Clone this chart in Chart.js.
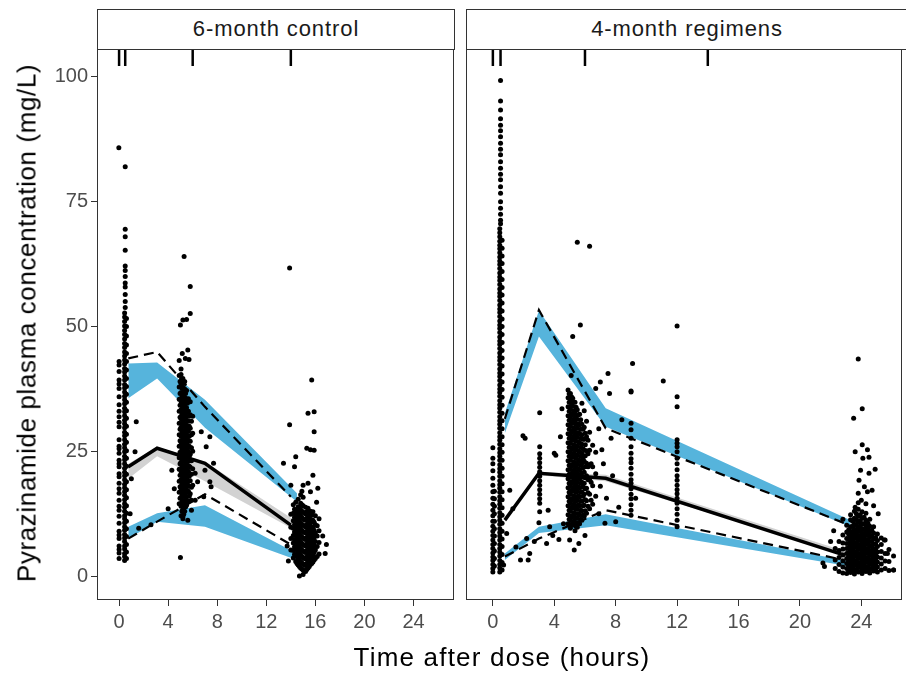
<!DOCTYPE html>
<html lang="en">
<head>
<meta charset="UTF-8">
<title>Pyrazinamide VPC</title>
<style>
  body { margin: 0; width: 906px; height: 673px; position: relative; overflow: hidden; background: #fff;
         font-family: "Liberation Sans", Arial, sans-serif; }
  .wrap { position: absolute; top: 0; height: 673px; }
  .strip { position: absolute; top: 9px; height: 41px; box-sizing: border-box; border: 1px solid #333;
           background: #fff; text-align: center; line-height: 38px; font-size: 22px; letter-spacing: 0.9px; color: #1a1a1a; }
  .title { position: absolute; white-space: nowrap; font-size: 26px; color: #000; letter-spacing: 1.2px; }
</style>
</head>
<body>

<div class="wrap" style="left:0;width:460px"><canvas id="ctrl" width="460" height="673"></canvas></div>
<div class="wrap" style="left:460px;width:446px"><canvas id="reg" width="446" height="673"></canvas></div>
<div class="strip" style="left:97px;width:358px">6-month control</div>
<div class="strip" style="left:466px;width:442px">4-month regimens</div>
<div class="title" style="left:27px;top:323px;transform:translate(-50%,-50%) rotate(-90deg);letter-spacing:0.6px">Pyrazinamide plasma concentration (mg/L)</div>
<div class="title" style="left:502px;top:657px;transform:translate(-50%,-50%)">Time after dose (hours)</div>

<script src="https://cdn.jsdelivr.net/npm/chart.js"></script>
<script>
  const xTicks = [0, 4, 8, 12, 16, 20, 24];
  const yTicks = [0, 25, 50, 75, 100];
  const binEdges = [0, 0.5, 6, 14];

  // 6-month control: simulated CI bands and observed percentiles
  const ctrlSimT = [0.75, 3.1, 7.0, 14.5];
  const ctrlHiLo = [35.6, 39.6, 29.7, 14.9];
  const ctrlHiHi = [42.6, 42.8, 35.3, 16.6];
  const ctrlMedLo = [19.5, 24.0, 19.0, 9.0];
  const ctrlMedHi = [22.5, 25.9, 22.9, 10.9];
  const ctrlLoLo = [7.5, 10.9, 9.9, 3.2];
  const ctrlLoHi = [9.9, 12.6, 14.2, 4.5];
  const ctrlObsT = [0.75, 3.1, 7.0, 14.0];
  const ctrlObsMed = [21.9, 25.6, 22.6, 10.2];
  const ctrlObsP95 = [43.6, 44.9, 33.9, 15.9];
  const ctrlObsP05 = [7.5, 10.9, 16.4, 6.3];

  // 4-month regimens
  const regSimT = [0.78, 3.0, 7.35, 23.3];
  const regHiLo = [28.6, 48.0, 29.9, 9.9];
  const regHiHi = [32.6, 53.2, 33.6, 11.2];
  const regMedLo = [10.8, 20.2, 19.0, 3.9];
  const regMedHi = [11.6, 20.9, 20.3, 4.6];
  const regLoLo = [3.2, 8.6, 10.2, 1.9];
  const regLoHi = [4.5, 9.9, 12.4, 2.9];
  const regObsT = [0.78, 3.0, 7.35, 22.9];
  const regObsMed = [11.2, 20.6, 19.6, 4.2];
  const regObsP95 = [31.5, 53.3, 29.6, 10.6];
  const regObsP05 = [3.9, 7.5, 13.2, 3.2];

  // observations, grouped by sampling time: [time, [concentrations]]
  const ctrlColumns = [
    [0.0, [3.5, 4.6, 5.3, 6.0, 7.5, 8.2, 9.0, 10.6, 12.0, 13.2, 14.0, 15.2, 16.6, 17.5, 18.6, 19.9, 20.5, 21.9, 22.5, 23.2, 24.6, 25.5, 26.0, 27.3, 29.9, 30.8, 31.9, 33.0, 34.3, 35.9, 37.6, 38.5, 39.3, 41.0, 42.3, 43.0]],
    [0.45, [3.1, 3.9, 4.5, 5.4, 6.0, 6.9, 7.6, 8.3, 9.2, 9.9, 10.7, 11.5, 12.1, 13.0, 13.8, 14.5, 15.3, 16.2, 16.9, 17.7, 18.4, 19.3, 20.1, 20.8, 21.6, 22.5, 23.3, 24.0, 24.9, 25.7, 26.4, 27.3, 28.1, 28.8, 29.7, 30.5, 31.2, 32.1, 32.9, 33.6, 34.5, 35.3, 36.0, 36.9, 37.7, 38.4, 39.3, 40.1, 40.9, 41.6, 42.5, 43.3, 44.1, 44.9, 45.8, 46.6, 47.5, 48.4, 49.2, 50.1, 51.0, 51.9, 52.7]],
    [0.6, [3.5, 4.8, 6.3, 7.9, 9.5, 11.0, 12.6, 14.1, 15.7, 17.3, 18.9, 20.4, 22.0, 23.6, 25.1, 26.8, 28.4, 30.0, 31.6, 33.1, 34.8, 36.4, 38.0, 39.6, 41.3, 43.0, 44.6, 46.3, 48.1, 50.0, 51.6]],
    [0.5, [53.8, 55.0, 56.4, 57.9, 58.7, 60.0, 61.2, 62.1, 65.3, 68.0, 69.5, 82.0]],
    [4.9, [14.5, 16.8, 19.0, 21.4, 23.7, 26.0, 28.3, 30.6, 33.0, 35.4, 37.9, 40.2]],
    [4.97, [15.6, 17.9, 20.2, 22.5, 24.8, 27.1, 29.4, 31.8, 34.2, 36.6, 39.0]],
    [5.05, [12.1, 14.0, 15.8, 17.5, 19.3, 21.0, 22.8, 24.5, 26.3, 28.0, 29.8, 31.5, 33.3, 35.0, 36.8, 38.6, 40.4, 41.5]],
    [5.12, [13.0, 14.9, 16.6, 18.4, 20.1, 21.9, 23.6, 25.4, 27.1, 28.9, 30.6, 32.4, 34.1, 35.9, 37.7, 39.5]],
    [5.2, [11.5, 13.4, 15.1, 16.9, 18.6, 20.4, 22.1, 23.9, 25.6, 27.4, 29.1, 30.9, 32.6, 34.4, 36.1, 37.9, 39.6]],
    [5.27, [12.4, 14.2, 16.0, 17.7, 19.5, 21.2, 23.0, 24.7, 26.5, 28.2, 30.0, 31.7, 33.5, 35.2, 37.0, 38.7]],
    [5.35, [13.0, 14.8, 16.5, 18.3, 20.0, 21.8, 23.5, 25.3, 27.0, 28.8, 30.5, 32.3, 34.0, 35.8, 37.5, 39.0]],
    [5.42, [13.9, 15.6, 17.4, 19.1, 20.9, 22.6, 24.4, 26.1, 27.9, 29.6, 31.4, 33.1, 34.9, 36.6]],
    [5.5, [14.2, 16.0, 17.8, 19.6, 21.3, 23.1, 24.9, 26.6, 28.4, 30.2, 32.0, 33.7, 35.5, 37.2]],
    [5.57, [15.1, 16.9, 18.7, 20.4, 22.2, 24.0, 25.7, 27.5, 29.3, 31.1, 32.8, 34.6]],
    [5.65, [15.0, 17.0, 19.0, 21.0, 23.0, 25.0, 27.0, 29.0, 31.0, 33.0, 35.5]],
    [5.72, [16.0, 18.0, 20.0, 22.0, 24.0, 26.0, 28.0, 30.0, 32.0]],
    [5.8, [16.5, 19.1, 21.8, 24.4, 27.0, 29.6, 32.3, 34.9]],
    [5.9, [17.8, 20.4, 23.1, 25.7, 28.3, 31.0]],
    [6.0, [18.2, 21.5, 25.0, 28.6, 32.0]],
    [14.0, [5.2, 7.5, 9.8, 12.4]],
    [14.2, [3.6, 5.1, 6.6, 8.1, 9.6, 11.1, 12.6, 14.3]],
    [14.3, [4.3, 5.8, 7.3, 8.8, 10.3, 11.8, 13.4]],
    [14.4, [2.9, 4.3, 5.7, 7.1, 8.5, 9.9, 11.3, 12.7, 14.8]],
    [14.5, [2.5, 3.9, 5.2, 6.6, 8.0, 9.3, 10.6, 12.0, 13.3]],
    [14.6, [2.2, 3.5, 4.8, 6.1, 7.4, 8.7, 10.0, 11.3, 12.6, 13.9, 15.4]],
    [14.7, [1.9, 3.2, 4.5, 5.8, 7.1, 8.4, 9.7, 11.0, 12.3, 13.6]],
    [14.8, [1.6, 2.9, 4.2, 5.5, 6.8, 8.1, 9.4, 10.7, 12.0, 13.3, 14.6, 16.3]],
    [14.9, [1.4, 2.6, 3.9, 5.2, 6.5, 7.8, 9.1, 10.4, 11.7, 13.0, 14.3]],
    [15.0, [1.2, 2.4, 3.7, 5.0, 6.3, 7.6, 8.9, 10.2, 11.5, 12.8, 14.1, 15.8]],
    [15.1, [1.0, 2.2, 3.5, 4.8, 6.1, 7.4, 8.7, 10.0, 11.3, 12.6]],
    [15.2, [0.9, 2.1, 3.4, 4.7, 6.0, 7.3, 8.6, 9.9, 11.2, 12.5, 13.8]],
    [15.3, [1.3, 2.5, 3.8, 5.1, 6.4, 7.7, 9.0, 10.3, 11.6, 12.9]],
    [15.4, [1.6, 2.9, 4.2, 5.5, 6.8, 8.1, 9.4, 10.7, 12.0, 13.6]],
    [15.5, [1.9, 3.2, 4.5, 5.8, 7.1, 8.4, 9.7, 11.0, 12.4]],
    [15.6, [2.3, 3.6, 4.9, 6.2, 7.5, 8.8, 10.1, 11.4, 13.0]],
    [15.7, [2.5, 3.9, 5.3, 6.7, 8.1, 9.5, 10.9, 12.2]],
    [15.8, [2.8, 4.2, 5.6, 7.0, 8.4, 9.8, 11.2, 12.9]],
    [15.9, [3.2, 4.7, 6.2, 7.7, 9.2, 10.8]],
    [16.0, [3.5, 5.2, 6.9, 8.6, 10.3, 12.1]],
    [16.15, [3.9, 5.9, 8.0, 10.1]],
    [16.3, [4.4, 6.7, 9.1, 11.5]]
  ];
  const ctrlPoints = [
    [-0.02, 85.8], [1.4, 30.9], [1.3, 24.9], [1.6, 9.6], [4.3, 21.2], [5.0, 3.7], [1.0, 19.5], [0.9, 12.5],
    [2.6, 10.3], [4.0, 13.5], [4.5, 17.5], [5.3, 64.0], [5.8, 58.0], [5.8, 52.6], [5.5, 51.4], [5.2, 51.3],
    [5.0, 50.3], [5.6, 45.3], [5.15, 44.6], [5.4, 43.6], [5.7, 43.4], [4.9, 43.2], [6.7, 28.9], [7.4, 27.9],
    [7.1, 25.9], [7.7, 22.6], [7.0, 21.2], [6.2, 20.6], [6.4, 18.9], [7.4, 18.9], [7.5, 17.9], [5.9, 15.2],
    [5.4, 13.9], [5.2, 11.9], [5.6, 11.2], [6.2, 15.2], [6.9, 15.9], [5.9, 13.2], [15.7, 39.3], [15.9, 32.9],
    [15.4, 32.6], [15.9, 28.9], [13.9, 30.3], [15.3, 25.6], [15.6, 25.3], [14.4, 23.9], [15.9, 25.2],
    [13.4, 22.6], [14.3, 21.9], [15.8, 20.2], [15.4, 18.6], [15.0, 18.2], [16.2, 17.6], [14.0, 18.2],
    [13.9, 61.7], [15.6, 16.9], [14.9, 17.0], [16.1, 14.8], [15.0, 0.3], [14.7, 0.0], [16.6, 8.0],
    [16.8, 4.5], [16.9, 6.3], [13.7, 6.0], [13.8, 3.0]
  ];

  const regColumns = [
    [0.0, [0.8, 1.5, 2.3, 3.1, 3.8, 4.6, 5.5, 6.3, 7.2, 8.1, 9.0, 10.0, 11.0, 12.1, 13.2, 14.4, 15.6, 16.9, 18.2, 19.6, 21.1, 22.5, 23.6, 25.7]],
    [0.1, [2.0, 3.5, 5.0, 6.5, 8.0, 9.5, 11.0, 12.5, 14.0, 15.5, 17.0]],
    [0.45, [0.8, 1.6, 2.3, 3.1, 4.0, 4.8, 5.5, 6.3, 7.2, 8.0, 8.7, 9.5, 10.4, 11.2, 11.9, 12.7, 13.6, 14.4, 15.1, 15.9, 16.8, 17.6, 18.3, 19.1, 20.0, 20.8, 21.5, 22.3, 23.2, 24.0, 24.7, 25.5, 26.4, 27.2, 27.9, 28.7, 29.6, 30.4, 31.1, 31.9, 32.8, 33.6, 34.3, 35.1, 36.0, 36.8, 37.5, 38.3, 39.2, 40.0, 40.7, 41.5, 42.4, 43.2, 43.9, 44.7, 45.6, 46.4, 47.1, 47.9, 48.8, 49.6, 50.3, 51.1, 52.0, 52.8, 53.5, 54.3, 55.2, 56.0, 56.7, 57.5, 58.4, 59.2, 59.9, 60.7, 61.6, 62.4, 63.1, 63.9, 64.8, 65.6, 66.3, 67.1, 68.0, 68.8, 69.6]],
    [0.6, [1.2, 2.7, 4.3, 5.9, 7.4, 9.0, 10.6, 12.2, 13.7, 15.3, 16.9, 18.5, 20.0, 21.6, 23.2, 24.8, 26.3, 27.9, 29.5, 31.1, 32.6, 34.2, 35.8, 37.4, 38.9, 40.5, 42.1, 43.7, 45.2, 46.8, 48.4, 50.0, 51.5, 53.1, 54.7, 56.3, 57.8, 59.4, 61.0, 62.6, 64.1, 65.7, 67.3]],
    [0.5, [70.6, 71.3, 72.5, 73.7, 75.0, 76.7, 78.0, 79.4, 80.5, 81.7, 83.0, 84.4, 85.5, 86.7, 88.0, 89.2, 90.3, 91.6, 93.4, 95.2, 99.3]],
    [3.05, [12.9, 14.6, 15.5, 16.4, 17.3, 18.2, 19.1, 20.0, 20.9, 21.8, 22.7, 23.6, 24.5, 25.9, 32.7]],
    [4.9, [10.5, 12.3, 14.1, 15.9, 17.7, 19.5, 21.3, 23.1, 24.9, 26.7, 28.5, 30.3, 32.1, 33.9, 35.7, 37.3]],
    [4.97, [11.4, 13.2, 15.0, 16.8, 18.6, 20.4, 22.2, 24.0, 25.8, 27.6, 29.4, 31.2, 33.0, 34.8, 36.5]],
    [5.05, [9.6, 11.3, 13.0, 14.7, 16.4, 18.1, 19.8, 21.5, 23.2, 24.9, 26.6, 28.3, 30.0, 31.7, 33.4, 35.1, 36.6]],
    [5.12, [10.4, 12.1, 13.8, 15.5, 17.2, 18.9, 20.6, 22.3, 24.0, 25.7, 27.4, 29.1, 30.8, 32.5, 34.2, 35.9]],
    [5.2, [10.2, 11.9, 13.6, 15.3, 17.0, 18.7, 20.4, 22.1, 23.8, 25.5, 27.2, 28.9, 30.6, 32.3, 34.0, 35.6]],
    [5.27, [11.0, 12.7, 14.4, 16.1, 17.8, 19.5, 21.2, 22.9, 24.6, 26.3, 28.0, 29.7, 31.4, 33.1, 34.8]],
    [5.35, [9.1, 10.8, 12.5, 14.2, 15.9, 17.6, 19.3, 21.0, 22.7, 24.4, 26.1, 27.8, 29.5, 31.2, 32.9, 34.8]],
    [5.42, [10.0, 11.7, 13.4, 15.1, 16.8, 18.5, 20.2, 21.9, 23.6, 25.3, 27.0, 28.7, 30.4, 32.1, 33.8]],
    [5.5, [9.8, 11.6, 13.4, 15.2, 17.0, 18.8, 20.6, 22.4, 24.2, 26.0, 27.8, 29.6, 31.4, 33.3]],
    [5.57, [10.7, 12.5, 14.3, 16.1, 17.9, 19.7, 21.5, 23.3, 25.1, 26.9, 28.7, 30.5, 32.3]],
    [5.65, [10.5, 12.3, 14.1, 15.9, 17.7, 19.5, 21.3, 23.1, 24.9, 26.7, 28.5, 30.3, 32.4]],
    [5.72, [11.4, 13.2, 15.0, 16.8, 18.6, 20.4, 22.2, 24.0, 25.8, 27.6, 29.4, 31.3]],
    [5.8, [11.2, 13.1, 15.0, 16.9, 18.8, 20.7, 22.6, 24.5, 26.4, 28.3, 30.4, 34.6]],
    [5.87, [12.2, 14.1, 16.0, 17.9, 19.8, 21.7, 23.6, 25.5, 27.4, 29.4]],
    [5.95, [12.0, 14.2, 16.4, 18.6, 20.8, 23.0, 25.2, 27.4, 29.8, 33.1]],
    [6.02, [13.1, 15.3, 17.5, 19.7, 21.9, 24.1, 26.3, 28.6]],
    [6.1, [12.6, 15.1, 17.6, 20.1, 22.6, 25.1, 27.9, 31.0]],
    [6.2, [14.0, 16.7, 19.3, 21.9, 24.5, 27.2]],
    [6.3, [13.5, 16.4, 19.3, 22.2, 25.2, 28.8]],
    [6.4, [15.2, 18.8, 22.5]],
    [6.5, [14.4, 18.1, 21.9, 26.2]],
    [6.7, [16.0, 20.5, 24.8]],
    [9.0, [12.2, 13.2, 14.3, 15.5, 16.4, 17.5, 18.6, 19.3, 20.4, 21.6, 22.7, 23.5, 24.6, 25.9, 27.6, 29.3, 30.6, 36.9]],
    [12.0, [9.9, 11.2, 12.4, 13.5, 14.6, 15.6, 16.5, 17.3, 18.2, 19.2, 20.1, 21.3, 22.5, 23.6, 24.9, 25.9, 26.6, 27.3, 33.9, 35.9]],
    [22.3, [1.5, 3.2, 5.5]],
    [22.55, [0.9, 2.3, 3.7, 5.1, 6.9]],
    [22.8, [0.6, 1.8, 3.0, 4.2, 5.4, 6.6, 8.2]],
    [23.05, [0.5, 1.5, 2.5, 3.5, 4.5, 5.5, 6.5, 7.5, 8.8, 10.2]],
    [23.18, [1.1, 2.0, 2.9, 3.8, 4.7, 5.6, 6.5, 7.4, 8.3, 9.3]],
    [23.3, [0.7, 1.6, 2.5, 3.4, 4.3, 5.2, 6.1, 7.0, 7.9, 8.8, 9.9, 11.3]],
    [23.43, [0.9, 1.8, 2.7, 3.6, 4.5, 5.4, 6.3, 7.2, 8.1, 9.0, 10.0, 11.0]],
    [23.55, [0.4, 1.3, 2.2, 3.1, 4.0, 4.9, 5.8, 6.7, 7.6, 8.5, 9.4, 10.4, 11.6, 13.0]],
    [23.68, [1.2, 2.1, 3.0, 3.9, 4.8, 5.7, 6.6, 7.5, 8.4, 9.3, 10.3, 11.3, 12.5]],
    [23.8, [0.8, 1.7, 2.6, 3.5, 4.4, 5.3, 6.2, 7.1, 8.0, 8.9, 9.8, 10.8, 12.0, 13.4, 14.7]],
    [23.93, [0.9, 1.8, 2.7, 3.6, 4.5, 5.4, 6.3, 7.2, 8.1, 9.0, 10.0, 11.1, 12.3]],
    [24.05, [0.5, 1.4, 2.3, 3.2, 4.1, 5.0, 5.9, 6.8, 7.7, 8.6, 9.5, 10.5, 11.6, 12.9]],
    [24.18, [1.2, 2.1, 3.0, 3.9, 4.8, 5.7, 6.6, 7.5, 8.4, 9.4, 10.5, 11.8]],
    [24.3, [0.9, 1.8, 2.7, 3.6, 4.5, 5.4, 6.3, 7.2, 8.1, 9.0, 10.0, 11.2, 12.6]],
    [24.43, [1.0, 1.9, 2.8, 3.7, 4.6, 5.5, 6.4, 7.3, 8.3, 9.4, 10.6]],
    [24.55, [0.6, 1.5, 2.4, 3.3, 4.2, 5.1, 6.0, 6.9, 7.8, 8.8, 10.0, 11.4]],
    [24.68, [1.4, 2.3, 3.2, 4.1, 5.0, 5.9, 6.9, 8.0, 9.2]],
    [24.8, [1.0, 1.9, 2.8, 3.7, 4.6, 5.5, 6.4, 7.4, 8.6, 9.9]],
    [24.93, [1.3, 2.3, 3.3, 4.3, 5.3, 6.4, 7.7]],
    [25.05, [0.8, 1.8, 2.8, 3.8, 4.8, 5.9, 7.1, 8.4]],
    [25.3, [1.2, 2.4, 3.6, 4.9, 6.3, 7.6]],
    [25.55, [1.5, 3.0, 4.5, 7.2]],
    [25.8, [1.1, 2.9, 5.3]],
    [26.1, [1.2, 4.0]]
  ];
  const regPoints = [
    [1.96, 28.1], [2.1, 27.6], [2.3, 3.2], [2.2, 7.5], [2.4, 4.5], [3.7, 9.9], [3.5, 6.5], [4.1, 24.2],
    [3.6, 13.2], [1.1, 17.2], [4.0, 24.6], [4.4, 27.9], [1.3, 13.5], [0.9, 8.5], [1.5, 5.8], [2.7, 6.9],
    [3.9, 8.1], [4.6, 10.5], [4.3, 7.3], [1.8, 3.2], [3.0, 10.7], [5.2, 48.0], [5.7, 50.3], [5.5, 66.9],
    [6.3, 66.1], [5.1, 40.2], [4.5, 33.5], [6.7, 37.6], [7.5, 40.6], [7.6, 36.6], [7.0, 38.9], [9.1, 42.6],
    [9.0, 37.1], [7.7, 27.6], [8.4, 31.3], [11.1, 39.1], [12.0, 50.1], [7.2, 22.5], [7.0, 18.0], [7.4, 15.6],
    [6.9, 12.5], [7.3, 10.6], [8.0, 10.9], [9.3, 15.6], [6.9, 29.5], [7.1, 25.3], [7.8, 20.1], [8.2, 13.8],
    [5.0, 7.2], [5.6, 6.5], [6.0, 8.1], [5.3, 5.2], [0.7, 2.2], [23.8, 43.5], [24.06, 33.5], [23.5, 31.6],
    [24.06, 26.3], [24.4, 25.3], [23.6, 24.9], [24.1, 23.6], [24.5, 23.8], [23.95, 21.2], [24.9, 21.4],
    [24.5, 20.6], [23.85, 19.2], [24.2, 17.9], [23.8, 16.6], [24.4, 16.9], [24.7, 17.2], [24.0, 15.2],
    [24.3, 14.5], [23.6, 13.8], [24.8, 14.1], [25.1, 12.5], [23.3, 12.3], [22.8, 11.4], [21.6, 1.9],
    [21.5, 2.6], [22.0, 6.9], [22.2, 9.1], [26.1, 1.2], [25.7, 4.5], [25.5, 7.2]
  ];

  const BLUE = '#56B4DC';
  const GREY = '#D2D2D2';

  function xy(ts, vs) {
    return ts.map((t, i) => ({ x: t, y: vs[i] }));
  }
  function obsData(columns, points) {
    const out = [];
    columns.forEach(([t, cs]) => cs.forEach(c => out.push({ x: t, y: c })));
    points.forEach(([t, c]) => out.push({ x: t, y: c }));
    return out;
  }
  function band(ts, lo, hi, color) {
    return [
      { data: xy(ts, lo), borderWidth: 0, pointRadius: 0, fill: false },
      { data: xy(ts, hi), borderWidth: 0, pointRadius: 0, fill: '-1', backgroundColor: color }
    ];
  }

  // the first dataset is drawn on top, so lines come first and bands last
  function datasets(p) {
    return [
      { data: xy(p.obsT, p.med), borderColor: '#000', borderWidth: 3.5, pointRadius: 0 },
      { data: xy(p.obsT, p.p95), borderColor: '#000', borderWidth: 2.2, borderDash: [10, 6], pointRadius: 0 },
      { data: xy(p.obsT, p.p05), borderColor: '#000', borderWidth: 2.2, borderDash: [10, 6], pointRadius: 0 },
      { data: p.obs, showLine: false, pointRadius: 2.5, pointBackgroundColor: '#000', pointBorderWidth: 0 },
      ...band(p.simT, p.medLo, p.medHi, GREY),
      ...band(p.simT, p.hiLo, p.hiHi, BLUE),
      ...band(p.simT, p.loLo, p.loHi, BLUE)
    ];
  }

  const framePlugin = {
    id: 'frame',
    afterDraw(chart) {
      const { ctx, chartArea: a, scales } = chart;
      ctx.save();
      ctx.strokeStyle = '#000';
      ctx.lineWidth = 2.5;
      binEdges.forEach(v => {
        const px = scales.x.getPixelForValue(v);
        ctx.beginPath();
        ctx.moveTo(px, a.top);
        ctx.lineTo(px, a.top + 17);
        ctx.stroke();
      });
      ctx.strokeStyle = '#333';
      ctx.lineWidth = 1;
      ctx.strokeRect(a.left + 0.5, a.top + 0.5, a.right - a.left - 1, a.bottom - a.top - 1);
      ctx.restore();
    }
  };

  function makeChart(id, p, xMin, xMax, showY, padding) {
    const tickFont = { family: '"Liberation Sans", Arial, sans-serif', size: 20 };
    new Chart(document.getElementById(id), {
      type: 'line',
      data: { datasets: datasets(p) },
      options: {
        responsive: false,
        animation: false,
        layout: { padding: padding },
        elements: { line: { tension: 0 } },
        plugins: { legend: { display: false }, tooltip: { enabled: false } },
        scales: {
          x: {
            type: 'linear', min: xMin, max: xMax,
            afterBuildTicks: s => { s.ticks = xTicks.map(v => ({ value: v })); },
            afterFit: s => { s.height = 73; },
            border: { display: false },
            grid: { drawOnChartArea: false, drawTicks: true, tickLength: 6, color: '#333' },
            ticks: { font: tickFont, color: '#4d4d4d', padding: 4, maxRotation: 0 }
          },
          y: {
            type: 'linear', min: -4.8, max: 105.6, display: showY,
            afterBuildTicks: s => { s.ticks = yTicks.map(v => ({ value: v })); },
            afterFit: s => { s.width = showY ? 97 : 0; },
            border: { display: false },
            grid: { drawOnChartArea: false, drawTicks: true, tickLength: 6, color: '#333' },
            ticks: { font: tickFont, color: '#4d4d4d', padding: 3 }
          }
        }
      },
      plugins: [framePlugin]
    });
  }

  makeChart('ctrl', {
    obsT: ctrlObsT, med: ctrlObsMed, p95: ctrlObsP95, p05: ctrlObsP05,
    obs: obsData(ctrlColumns, ctrlPoints),
    simT: ctrlSimT, medLo: ctrlMedLo, medHi: ctrlMedHi,
    hiLo: ctrlHiLo, hiHi: ctrlHiHi, loLo: ctrlLoLo, loHi: ctrlLoHi
  }, -1.8, 27.3, true, { top: 49, right: 6, left: 0, bottom: 0 });

  makeChart('reg', {
    obsT: regObsT, med: regObsMed, p95: regObsP95, p05: regObsP05,
    obs: obsData(regColumns, regPoints),
    simT: regSimT, medLo: regMedLo, medHi: regMedHi,
    hiLo: regHiLo, hiHi: regHiHi, loLo: regLoLo, loHi: regLoHi
  }, -1.75, 26.65, false, { top: 49, right: 1, left: 6, bottom: 0 });
</script>
</body>
</html>
